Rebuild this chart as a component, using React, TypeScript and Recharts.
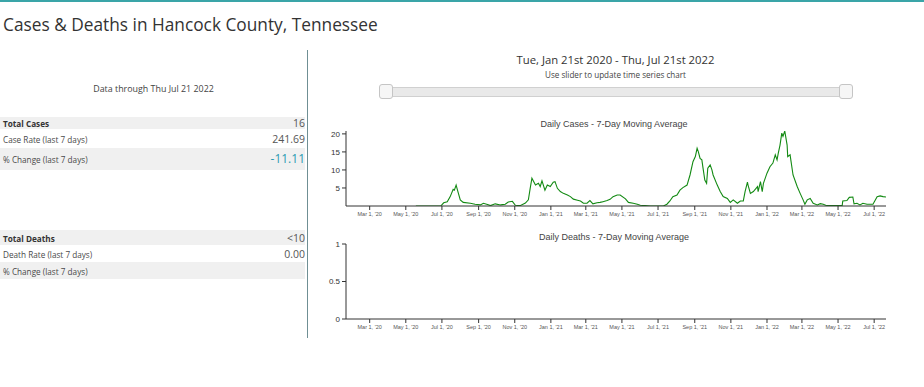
import { LineChart, Line, XAxis, YAxis } from "recharts";

// 7-day moving average of daily cases
const caseDates = [
  "2020-05-18", "2020-06-29", "2020-07-04", "2020-07-10", "2020-07-15", "2020-07-20", "2020-07-22",
  "2020-07-25", "2020-07-28", "2020-08-01", "2020-08-06", "2020-08-18", "2020-08-26", "2020-09-04",
  "2020-09-09", "2020-09-16", "2020-09-21", "2020-09-29", "2020-10-08", "2020-10-16", "2020-10-21",
  "2020-10-28", "2020-11-02", "2020-11-10", "2020-11-19", "2020-11-24", "2020-11-27", "2020-11-30",
  "2020-12-06", "2020-12-11", "2020-12-14", "2020-12-17", "2020-12-22", "2020-12-26", "2020-12-31",
  "2021-01-05", "2021-01-08", "2021-01-12", "2021-01-17", "2021-01-22", "2021-01-29", "2021-02-03",
  "2021-02-08", "2021-02-15", "2021-02-20", "2021-02-25", "2021-03-03", "2021-03-08", "2021-03-13",
  "2021-03-20", "2021-03-25", "2021-03-30", "2021-04-06", "2021-04-11", "2021-04-16", "2021-04-23",
  "2021-04-28", "2021-05-07", "2021-05-12", "2021-05-20", "2021-05-27", "2021-06-01", "2021-06-09",
  "2021-06-18", "2021-07-10", "2021-07-16", "2021-07-21", "2021-07-26", "2021-08-02", "2021-08-07",
  "2021-08-12", "2021-08-19", "2021-08-24", "2021-08-29", "2021-09-02", "2021-09-05", "2021-09-07",
  "2021-09-10", "2021-09-13", "2021-09-15", "2021-09-18", "2021-09-21", "2021-09-23", "2021-09-27",
  "2021-09-30", "2021-10-02", "2021-10-09", "2021-10-14", "2021-10-19", "2021-10-26", "2021-10-31",
  "2021-11-05", "2021-11-12", "2021-11-17", "2021-11-22", "2021-11-25", "2021-11-29", "2021-11-30",
  "2021-12-04", "2021-12-09", "2021-12-16", "2021-12-17", "2021-12-21", "2021-12-24", "2021-12-26",
  "2022-01-01", "2022-01-06", "2022-01-11", "2022-01-15", "2022-01-18", "2022-01-20", "2022-01-23",
  "2022-01-26", "2022-01-28", "2022-01-31", "2022-02-04", "2022-02-05", "2022-02-09", "2022-02-14",
  "2022-02-21", "2022-02-26", "2022-03-03", "2022-03-06", "2022-03-10", "2022-03-15", "2022-03-20",
  "2022-03-27", "2022-04-01", "2022-04-06", "2022-04-12", "2022-05-08", "2022-05-09", "2022-05-16",
  "2022-05-20", "2022-05-26", "2022-05-28", "2022-06-02", "2022-06-07", "2022-06-12", "2022-06-19",
  "2022-06-29", "2022-07-06", "2022-07-11", "2022-07-16", "2022-07-21",
];
const caseValues = [
  0, 0, 0.9, 1.2, 2.6, 4.6, 4.4,
  5.8, 4.0, 1.7, 1.0, 0.75, 0.5, 0.3,
  0.75, 0.4, 0.1, 0.6, 0.3, 0.5, 1.1,
  1.3, 0.2, 0.1, 0.8, 1.7, 4.8, 7.7,
  5.8, 6.3, 5.4, 7.0, 4.4, 5.8, 5.4,
  6.6, 6.75, 4.9, 4.0, 3.5, 3.05, 2.6,
  1.9, 1.6, 1.4, 0.75, 0.8, 1.5, 0.6,
  0.9, 1.0, 1.2, 1.5, 1.85, 2.6, 3.05,
  3.05, 2.0, 1.0, 0.75, 0.5, 0.2, 0.1,
  0, 0, 0.5, 1.4, 2.6, 3.05, 4.4,
  5.1, 5.8, 8.6, 12.3, 13.7, 16, 15.1,
  13.2, 12.8, 10.5, 7.2, 6.3, 10.5, 11.4,
  10, 8.6, 5.8, 4.0, 2.6, 2.1, 1.0,
  1.7, 0.75, 1.4, 1.4, 4.0, 6.6, 5.8,
  3.5, 4.0, 5.4, 4.0, 6.75, 4.0, 6.3,
  9.1, 10.9, 11.9, 14.2, 12.8, 14.6, 16.9,
  20.2, 19.3, 20.8, 16.9, 13.7, 14.2, 8.6,
  5.4, 3.5, 1.7, 0.5, 1.7, 2.1, 0.75,
  0.3, 0.65, 0.5, 0.1, 0.1, 1.4, 1.5,
  2.4, 2.5, 0.6, 0.75, 0.3, 0.75, 0.5,
  0.5, 2.6, 2.8, 2.6, 2.5,
];

const xTickDates = [
  "2020-03-01", "2020-05-01", "2020-07-01", "2020-09-01", "2020-11-01",
  "2021-01-01", "2021-03-01", "2021-05-01", "2021-07-01", "2021-09-01", "2021-11-01",
  "2022-01-01", "2022-03-01", "2022-05-01", "2022-07-01",
];
const caseTicks = [5, 10, 15, 20];
const deathTicks = [0, 0.5, 1];
const rangeStart = "2020-01-21";
const rangeEnd = "2022-07-21";

const MONTHS = ["Jan", "Feb", "Mar", "Apr", "May", "Jun", "Jul", "Aug", "Sep", "Oct", "Nov", "Dec"];
const toTime = (s: string) => Date.parse(s + "T00:00:00Z");
const fmtDate = (t: number) => {
  const d = new Date(t);
  return `${MONTHS[d.getUTCMonth()]} ${d.getUTCDate()}, '${String(d.getUTCFullYear()).slice(2)}`;
};

const caseData = caseDates.map((d, i) => ({ t: toTime(d), cases: caseValues[i] }));
const xTicks = xTickDates.map(toTime);
const xDomain = [toTime(rangeStart), toTime(rangeEnd)];

const OPEN = "'Open Sans', sans-serif";
const SANS = "'Liberation Sans', Arial, sans-serif";

const abs = (left: number, top: number, extra: any = {}) => ({ position: "absolute" as const, left, top, ...extra });

function Row({ top, h, bg, label, bold, value, valueStyle }: any) {
  return (
    <div style={abs(0, top, { width: 305, height: h, background: bg })}>
      <span style={{ position: "absolute", left: 3, top: h / 2 - 5, fontSize: 8.2, lineHeight: "12px", fontWeight: bold ? 700 : 400, color: bold ? "#333" : "#4a4a4a" }}>
        {label}
      </span>
      {value != null && (
        <span style={{ position: "absolute", right: 0, top: h / 2 - 8, lineHeight: "16px", fontSize: 10.5, color: "#555", ...valueStyle }}>
          {value}
        </span>
      )}
    </div>
  );
}

function SeriesChart({ top, data, ticks, domain, title, titleTop, showLine }: any) {
  return (
    <>
      <div style={abs(300, titleTop, { width: 628, textAlign: "center", fontFamily: SANS, fontSize: 9, color: "#444" })}>{title}</div>
      <div style={abs(300, top)}>
        <LineChart width={600} height={112} data={data} margin={{ top: 21, right: 14, bottom: 0, left: 0 }}>
          <XAxis
            dataKey="t"
            type="number"
            scale="time"
            domain={xDomain}
            ticks={xTicks}
            tickFormatter={fmtDate}
            tick={{ fontSize: 5.5, fill: "#555", fontFamily: SANS }}
            tickSize={4}
            axisLine={{ stroke: "#333" }}
            tickLine={{ stroke: "#333" }}
            height={16}
            allowDataOverflow
          />
          <YAxis
            type="number"
            domain={domain}
            ticks={ticks}
            width={46}
            allowDataOverflow
            tick={{ fontSize: 8, fill: "#333", fontFamily: SANS }}
            tickSize={4}
            axisLine={{ stroke: "#333" }}
            tickLine={{ stroke: "#333" }}
          />
          {showLine && (
            <Line dataKey="cases" type="linear" stroke="#138a13" strokeWidth={1.1} dot={false} isAnimationActive={false} />
          )}
        </LineChart>
      </div>
    </>
  );
}

export default function App() {
  return (
    <div style={{ position: "absolute", left: 0, top: 0, width: 924, height: 387, background: "#fff", fontFamily: OPEN, overflow: "hidden" }}>
      <div style={abs(0, 0, { width: 924, height: 1.5, background: "#3aa5a8" })} />
      <div style={abs(3, 10, { fontSize: 17.3, color: "#333", lineHeight: "30px" })}>Cases &amp; Deaths in Hancock County, Tennessee</div>
      <div style={abs(307, 50, { width: 1, height: 288, background: "#6f8f94" })} />

      <div style={abs(0, 82, { width: 307, textAlign: "center", fontSize: 8.9, color: "#444", lineHeight: "14px" })}>Data through Thu Jul 21 2022</div>
      <Row top={117} h={12} bg="#f0f0f0" label="Total Cases" bold value="16" />
      <Row top={129} h={19} bg="#fff" label="Case Rate (last 7 days)" value="241.69" />
      <Row top={148} h={22} bg="#f0f0f0" label="% Change (last 7 days)" value="-11.11" valueStyle={{ fontSize: 12, color: "#2b9ab2" }} />
      <Row top={230} h={15} bg="#f0f0f0" label="Total Deaths" bold value="<10" />
      <Row top={245} h={17} bg="#fff" label="Death Rate (last 7 days)" value="0.00" />
      <Row top={262} h={17} bg="#f0f0f0" label="% Change (last 7 days)" />

      <div style={abs(307, 52, { width: 617, textAlign: "center", fontSize: 11.3, color: "#333", lineHeight: "16px" })}>
        Tue, Jan 21st 2020 - Thu, Jul 21st 2022
      </div>
      <div style={abs(307, 69, { width: 617, textAlign: "center", fontSize: 8.1, color: "#444", lineHeight: "12px" })}>
        Use slider to update time series chart
      </div>
      <div style={abs(386, 87, { width: 458, height: 8, background: "#e9e9e9", border: "1px solid #d0d0d0", borderRadius: 2 })} />
      <div style={abs(379, 84, { width: 12, height: 13, background: "#f6f6f6", border: "1px solid #c5c5c5", borderRadius: 3 })} />
      <div style={abs(839, 84, { width: 12, height: 13, background: "#f6f6f6", border: "1px solid #c5c5c5", borderRadius: 3 })} />

      <SeriesChart top={110} titleTop={119} data={caseData} showLine ticks={caseTicks} domain={[0, "dataMax"]} title="Daily Cases - 7-Day Moving Average" />
      <SeriesChart top={223} titleTop={232} data={caseData} showLine={false} ticks={deathTicks} domain={[0, 1]} title="Daily Deaths - 7-Day Moving Average" />
    </div>
  );
}
